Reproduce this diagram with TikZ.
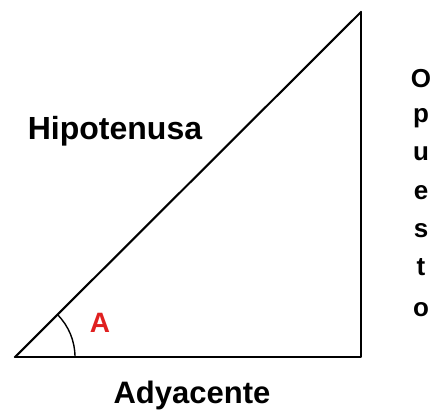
\documentclass[tikz,border=0pt]{standalone}
\usepackage{fontspec}
\setmainfont{Liberation Sans}
\definecolor{anglered}{RGB}{224,32,32}
\begin{document}
\begin{tikzpicture}[x=1pt,y=-1pt,
  side/.style={line width=2.6pt,line cap=round,line join=round},
  hyp/.style={line width=2.1pt,line cap=round},
  arcline/.style={line width=1.4pt},
  lbl/.style={font=\fontsize{31}{31}\selectfont\bfseries,anchor=base,inner sep=0pt},
  vlbl/.style={font=\fontsize{26}{26}\selectfont\bfseries,anchor=base,inner sep=0pt}]
\useasboundingbox (0,0) rectangle (435,415);
\coordinate (B) at (15,357);
\coordinate (C) at (361,357);
\coordinate (T) at (361,12);
\draw[side] (B) -- (C) -- (T);
\draw[hyp] (B) -- (T);
\draw[arcline] ([shift={(0:60)}]B) arc[start angle=0,end angle=-45,radius=60];
\node[lbl,font=\fontsize{32}{32}\selectfont\bfseries] (hip) at (115,139) {Hipotenusa};
\node[lbl] (ady) at (192,403) {Adyacente};
\node[lbl,font=\fontsize{28}{28}\selectfont\bfseries,text=anglered] (angA) at (100,332) {A};
\node[vlbl] (o1) at (421,87) {O};
\node[vlbl] (o2) at (421,122) {p};
\node[vlbl] (o3) at (421,160) {u};
\node[vlbl] (o4) at (421,199) {e};
\node[vlbl] (o5) at (421,237) {s};
\node[vlbl] (o6) at (421,275) {t};
\node[vlbl] (o7) at (421,316) {o};
\end{tikzpicture}
\end{document}
